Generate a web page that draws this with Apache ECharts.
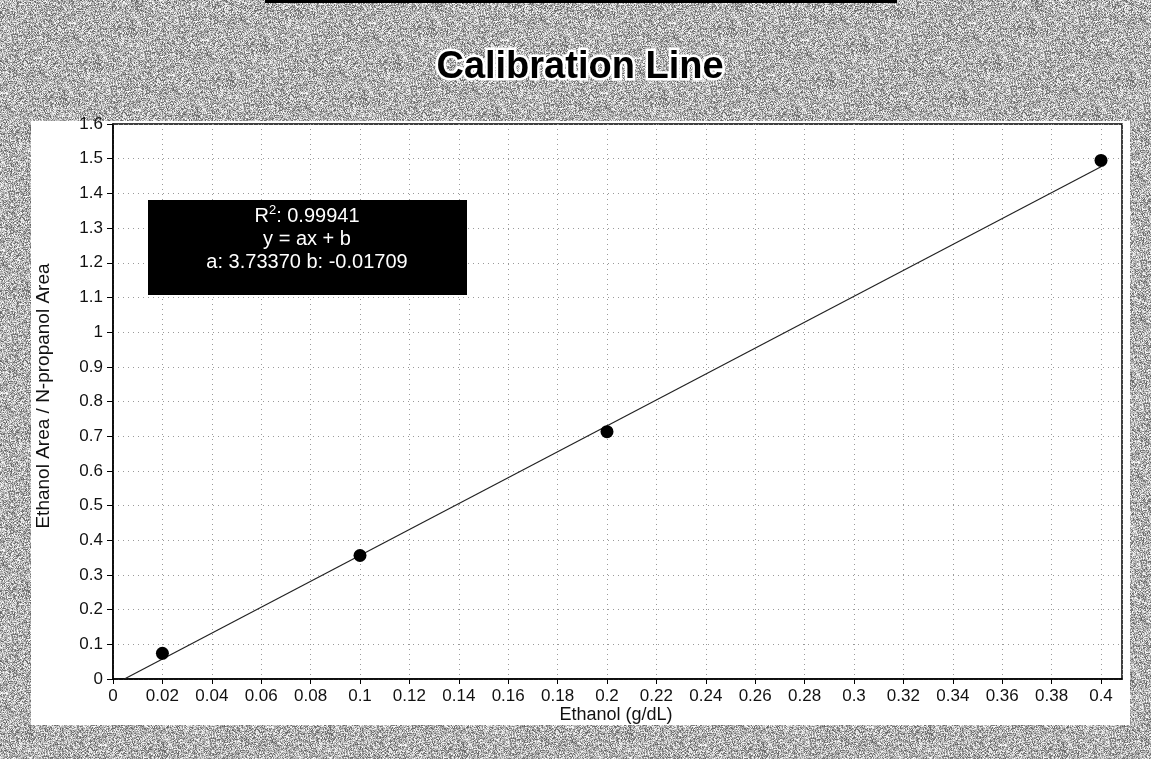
<!DOCTYPE html>
<html>
<head>
<meta charset="utf-8">
<script src="https://cdn.jsdelivr.net/npm/echarts@6/dist/echarts.min.js"></script>
<style>
html,body{margin:0;padding:0;background:#a4a4a4;}
#chart{width:1151px;height:759px;}
</style>
</head>
<body>
<div id="chart"></div>
<script>
// ---- data ----
const xValues = [0.02, 0.1, 0.2, 0.4];
const yValues = [0.074, 0.356, 0.713, 1.495];
const trendX = [0.0046, 0.4];
const trendY = [0, 1.477];
const annotationLines = ['R', ': 0.99941', 'y = ax + b', 'a: 3.73370 b: -0.01709'];
const titleText = 'Calibration Line';
const xAxisTitle = 'Ethanol (g/dL)';
const yAxisTitle = 'Ethanol Area / N-propanol Area';

// ---- decorative textured background (scanned paper look) ----
function makeTexture() {
  const c = document.createElement('canvas');
  c.width = 300; c.height = 300;
  const ctx = c.getContext('2d');
  const img = ctx.createImageData(300, 300);
  let s = 12345;
  function rnd() { s = (s * 1103515245 + 12345) & 0x7fffffff; return s / 0x7fffffff; }
  for (let i = 0; i < 300 * 300; i++) {
    const r = rnd();
    let v = r < 0.33 ? 95 + rnd() * 60 : (r < 0.72 ? 165 + rnd() * 40 : 210 + rnd() * 45);
    img.data[i * 4] = v; img.data[i * 4 + 1] = v; img.data[i * 4 + 2] = v; img.data[i * 4 + 3] = 255;
  }
  ctx.putImageData(img, 0, 0);
  return c;
}

const chart = echarts.init(document.getElementById('chart'), null, {renderer: 'canvas'});
const font = 'Liberation Sans, Arial, sans-serif';

const option = {
  backgroundColor: {image: makeTexture(), repeat: 'repeat'},
  animation: false,
  graphic: [
    {type: 'rect', z: -10, shape: {x: 265, y: 0, width: 632, height: 3}, style: {fill: '#000'}},
    {type: 'rect', z: -5, silent: true, shape: {x: 31, y: 121, width: 1099, height: 604}, style: {fill: '#ffffff'}},
    {type: 'text', z: 20, x: 580, y: 68, style: {
      text: titleText, fill: '#000', fontSize: 38, fontWeight: 'bold', fontFamily: font,
      textAlign: 'center', textVerticalAlign: 'middle', stroke: '#ffffff', lineWidth: 5
    }},
    {type: 'rect', z: 10, shape: {x: 148, y: 200, width: 319, height: 95}, style: {fill: '#000000'}},
    {type: 'text', z: 11, x: 307, y: 215, style: {
      rich: {
        n: {fill: '#fff', fontSize: 20, fontFamily: font, verticalAlign: 'bottom', lineHeight: 22},
        sup: {fill: '#fff', fontSize: 13, fontFamily: font, verticalAlign: 'top', lineHeight: 22}
      },
      align: 'center', verticalAlign: 'middle',
      text: '{n|' + annotationLines[0] + '}{sup|2}{n|' + annotationLines[1] + '}'
    }},
    {type: 'text', z: 11, x: 307, y: 239, style: {text: annotationLines[2], fill: '#fff', fontSize: 20, fontFamily: font, textAlign: 'center', textVerticalAlign: 'middle'}},
    {type: 'text', z: 11, x: 307, y: 262, style: {text: annotationLines[3], fill: '#fff', fontSize: 20, fontFamily: font, textAlign: 'center', textVerticalAlign: 'middle'}},
    {type: 'text', z: 11, x: 616, y: 715, style: {text: xAxisTitle, fill: '#111', fontSize: 18, fontFamily: font, textAlign: 'center', textVerticalAlign: 'middle'}},
    {type: 'text', z: 11, x: 44, y: 396, rotation: Math.PI / 2, style: {text: yAxisTitle, fill: '#111', fontSize: 19, fontFamily: font, textAlign: 'center', textVerticalAlign: 'middle'}}
  ],
  grid: {left: 113, right: 29, top: 124, bottom: 80, show: true, borderColor: '#000', borderWidth: 1.5, backgroundColor: 'transparent'},
  xAxis: {
    type: 'value', min: 0, max: 0.4085, interval: 0.02,
    axisLine: {show: true, lineStyle: {color: '#000', width: 1.5}},
    axisTick: {show: true, length: 5, lineStyle: {color: '#000'}},
    axisLabel: {color: '#111', fontSize: 17, fontFamily: font, margin: 9, showMaxLabel: false,
      formatter: v => String(Math.round(v * 100) / 100)},
    splitLine: {show: true, lineStyle: {color: '#9a9a9a', type: [1, 4], width: 1}}
  },
  yAxis: {
    type: 'value', min: 0, max: 1.6, interval: 0.1,
    axisLine: {show: true, lineStyle: {color: '#000', width: 1.5}},
    axisTick: {show: true, length: 6, lineStyle: {color: '#000'}},
    axisLabel: {color: '#111', fontSize: 17, fontFamily: font, margin: 10,
      formatter: v => String(Math.round(v * 10) / 10)},
    splitLine: {show: true, lineStyle: {color: '#9a9a9a', type: [1, 4], width: 1}}
  },
  series: [
    {
      type: 'line', data: trendX.map((x, i) => [x, trendY[i]]),
      showSymbol: false, symbol: 'none', lineStyle: {color: '#222', width: 1.2}, z: 2
    },
    {
      type: 'scatter', data: xValues.map((x, i) => [x, yValues[i]]),
      symbol: 'circle', symbolSize: 13, itemStyle: {color: '#000', opacity: 1}, z: 3
    }
  ]
};
chart.setOption(option);
</script>
</body>
</html>
